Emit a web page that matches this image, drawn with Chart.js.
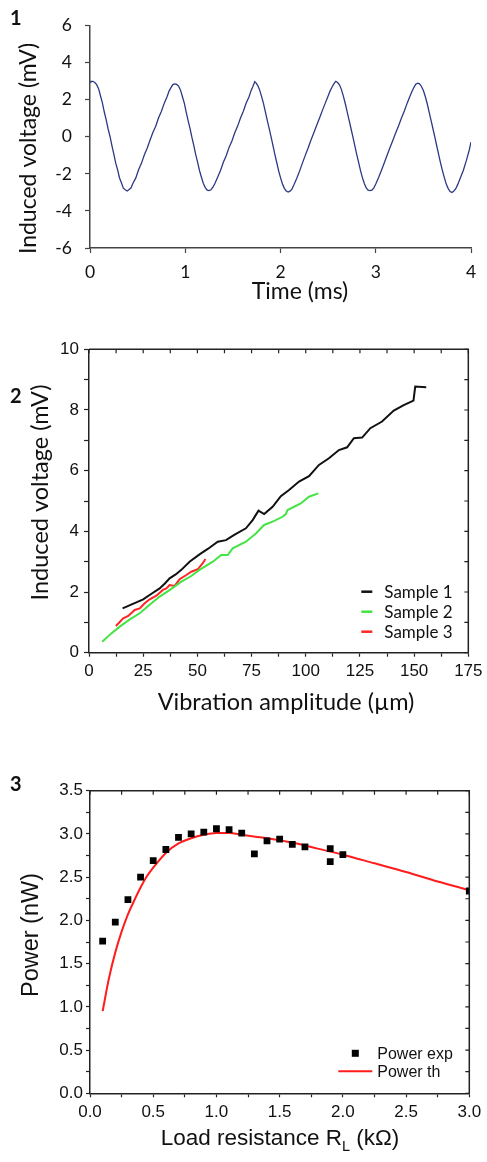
<!DOCTYPE html>
<html>
<head>
<meta charset="utf-8">
<script src="https://cdn.jsdelivr.net/npm/chart.js@4.4.1/dist/chart.umd.min.js"></script>
<style>
  body { margin: 0; background: #fff; width: 487px; height: 1162px; position: relative; overflow: hidden; }
  canvas { position: absolute; left: 0; }
</style>
</head>
<body>
<canvas id="c1" width="487" height="320" style="top:0px"></canvas>
<canvas id="c2" width="487" height="400" style="top:330px"></canvas>
<canvas id="c3" width="487" height="402" style="top:760px"></canvas>
<script>
// panel 1 - induced voltage vs time
var timeMs = [0.00, 0.01, 0.03, 0.05, 0.07, 0.09, 0.11, 0.13, 0.15, 0.17, 0.19, 0.21, 0.23, 0.25, 0.27, 0.29, 0.31, 0.33, 0.35, 0.37, 0.39, 0.41, 0.43, 0.45, 0.48, 0.51, 0.54, 0.57, 0.60, 0.63, 0.66, 0.69, 0.72, 0.75, 0.78, 0.81, 0.83, 0.85, 0.87, 0.89,
  0.91, 0.93, 0.95, 0.97, 0.99, 1.01, 1.03, 1.05, 1.07, 1.09, 1.11, 1.13, 1.15, 1.17, 1.19, 1.21, 1.23, 1.25, 1.27, 1.29, 1.31, 1.34, 1.37, 1.40, 1.43, 1.46, 1.49, 1.52, 1.55, 1.58, 1.61, 1.64, 1.67, 1.69, 1.71, 1.73, 1.745,
  1.76, 1.78, 1.80, 1.82, 1.84, 1.86, 1.88, 1.90, 1.92, 1.94, 1.96, 1.98, 2.00, 2.02, 2.04, 2.06, 2.08, 2.10, 2.12, 2.14, 2.17, 2.20, 2.23, 2.26, 2.29, 2.32, 2.35, 2.38, 2.41, 2.44, 2.47, 2.50, 2.52, 2.54, 2.56, 2.58, 2.60,
  2.62, 2.64, 2.66, 2.68, 2.70, 2.72, 2.74, 2.76, 2.78, 2.80, 2.82, 2.84, 2.86, 2.88, 2.90, 2.92, 2.94, 2.96, 2.98, 3.00, 3.03, 3.06, 3.09, 3.12, 3.15, 3.18, 3.21, 3.24, 3.27, 3.30, 3.33, 3.36, 3.38, 3.40, 3.42, 3.44, 3.46,
  3.48, 3.50, 3.52, 3.54, 3.56, 3.58, 3.60, 3.62, 3.64, 3.66, 3.68, 3.70, 3.72, 3.74, 3.76, 3.78, 3.80, 3.82, 3.84, 3.86, 3.89, 3.92, 3.95, 3.98, 4.00];
var voltage = [2.95, 3.00, 3.00, 2.93, 2.82, 2.60, 2.22, 1.83, 1.34, 0.92, 0.43, 0.02, -0.48, -0.93, -1.42, -1.78, -2.22, -2.48, -2.77, -2.86, -2.92, -2.84, -2.76, -2.52, -2.23, -1.78, -1.43, -0.98, -0.62, -0.18, 0.23, 0.57, 1.03, 1.38, 1.82, 2.18, 2.47, 2.66, 2.82, 2.86,
  2.83, 2.74, 2.52, 2.18, 1.82, 1.33, 0.88, 0.46, -0.03, -0.47, -0.96, -1.38, -1.83, -2.18, -2.52, -2.74, -2.88, -2.90, -2.86, -2.72, -2.53, -2.18, -1.82, -1.37, -1.02, -0.57, -0.22, 0.22, 0.58, 1.02, 1.38, 1.83, 2.17, 2.48, 2.72, 2.98, 2.90,
  2.78, 2.55, 2.20, 1.83, 1.38, 0.92, 0.47, 0.02, -0.45, -0.93, -1.37, -1.82, -2.20, -2.53, -2.78, -2.92, -2.98, -2.93, -2.82, -2.60, -2.25, -1.85, -1.42, -1.00, -0.60, -0.17, 0.22, 0.63, 1.02, 1.43, 1.82, 2.20, 2.47, 2.68, 2.86, 3.00, 2.93,
  2.80, 2.55, 2.20, 1.80, 1.35, 0.90, 0.45, 0.00, -0.47, -0.95, -1.38, -1.82, -2.20, -2.52, -2.75, -2.88, -2.90, -2.88, -2.75, -2.55, -2.20, -1.80, -1.40, -0.98, -0.58, -0.18, 0.22, 0.60, 1.02, 1.40, 1.82, 2.20, 2.45, 2.66, 2.84, 2.90, 2.86,
  2.72, 2.50, 2.18, 1.80, 1.35, 0.90, 0.45, 0.00, -0.48, -0.95, -1.40, -1.82, -2.20, -2.55, -2.78, -2.95, -3.00, -2.92, -2.80, -2.58, -2.20, -1.80, -1.30, -0.75, -0.28];

// panel 2 - induced voltage vs vibration amplitude
var s1Amp = [15.5, 20, 25, 29, 32.6, 35, 37.2, 40, 42.6, 46.4, 51, 54.8, 59.4, 63.2, 67, 72.4, 75.5, 78.2, 80.8, 84.7, 88.5, 92.3, 96.9, 101.5, 106.1, 110.7, 115.3, 119.1, 122.2, 126, 129.8, 135.2, 140.6, 145.2, 149.7, 150.5, 155.6];
var s1Volt = [1.46, 1.6, 1.76, 1.95, 2.12, 2.28, 2.45, 2.58, 2.73, 3.0, 3.24, 3.42, 3.66, 3.71, 3.88, 4.1, 4.37, 4.68, 4.57, 4.81, 5.16, 5.36, 5.64, 5.82, 6.19, 6.41, 6.68, 6.77, 7.07, 7.09, 7.4, 7.62, 7.98, 8.16, 8.31, 8.77, 8.75];
var s2Amp = [6.1, 10, 14.2, 18.5, 23.4, 28, 32.6, 37.5, 42.6, 47, 51, 57.1, 61, 64, 66.3, 72.4, 77, 80.8, 84.7, 89.3, 90.8, 91.6, 97.7, 101.5, 105.8];
var s2Volt = [0.36, 0.62, 0.86, 1.08, 1.3, 1.58, 1.85, 2.08, 2.34, 2.52, 2.73, 3.0, 3.22, 3.22, 3.44, 3.66, 3.93, 4.21, 4.32, 4.48, 4.57, 4.70, 4.92, 5.14, 5.25];
var s3Amp = [12.4, 15.8, 18.1, 21.1, 23.4, 25.7, 28, 31.1, 34.1, 35.7, 37.2, 39.5, 41.8, 44.9, 47.2, 50.2, 52.5, 53.7];
var s3Volt = [0.88, 1.13, 1.21, 1.41, 1.46, 1.63, 1.76, 1.88, 2.07, 2.12, 2.23, 2.2, 2.42, 2.56, 2.67, 2.75, 2.95, 3.09];
var sampleNames = ["Sample 1", "Sample 2", "Sample 3"];

// panel 3 - power vs load resistance
var loadExp = [0.1, 0.2, 0.3, 0.4, 0.5, 0.6, 0.7, 0.8, 0.9, 1.0, 1.1, 1.2, 1.3, 1.4, 1.5, 1.6, 1.7, 1.9, 1.9, 2.0, 3.0];
var powerExp = [1.76, 1.98, 2.24, 2.5, 2.69, 2.82, 2.96, 3.0, 3.02, 3.06, 3.05, 3.01, 2.77, 2.92, 2.94, 2.88, 2.85, 2.83, 2.68, 2.76, 2.34];
var loadTh = [0.1, 0.15, 0.2, 0.25, 0.3, 0.35, 0.4, 0.45, 0.5, 0.6, 0.7, 0.8, 0.9, 1.0, 1.1, 1.2, 1.4, 1.6, 1.8, 2.0, 2.25, 2.5, 2.75, 3.0];
var powerTh = [0.95, 1.33, 1.63, 1.87, 2.07, 2.23, 2.38, 2.51, 2.61, 2.78, 2.89, 2.95, 2.99, 3.01, 3.01, 2.99, 2.95, 2.90, 2.83, 2.76, 2.66, 2.56, 2.45, 2.35];

function pts(xs, ys) {
  return xs.map(function(x, i) { return { x: x, y: ys[i] }; });
}

var LATO = "Lato, 'Open Sans', sans-serif";
var ARIAL = "'Liberation Sans', Arial, sans-serif";
var INK = '#111';

// top + right box with inward ticks
var framePlugin = {
  id: 'frame',
  afterDraw: function(chart, args, opts) {
    if (!opts.box) return;
    var ctx = chart.ctx, a = chart.chartArea, sx = chart.scales.x, sy = chart.scales.y;
    ctx.save();
    ctx.strokeStyle = opts.color;
    ctx.lineWidth = opts.width;
    ctx.beginPath();
    ctx.moveTo(a.left, a.top);
    ctx.lineTo(a.right, a.top);
    ctx.lineTo(a.right, a.bottom);
    ctx.stroke();
    ctx.lineWidth = 1.2;
    ctx.beginPath();
    sx.ticks.forEach(function(t, i) {
      var px = sx.getPixelForTick(i);
      ctx.moveTo(px, a.top);
      ctx.lineTo(px, a.top + opts.tick);
    });
    sy.ticks.forEach(function(t, i) {
      var py = sy.getPixelForTick(i);
      ctx.moveTo(a.right, py);
      ctx.lineTo(a.right - opts.tick, py);
    });
    ctx.stroke();
    ctx.restore();
  }
};

// free text: panel numbers and axis titles
var textPlugin = {
  id: 'texts',
  afterDraw: function(chart, args, opts) {
    var ctx = chart.ctx;
    (opts.items || []).forEach(function(it) {
      var parts = it.parts || [{ t: it.t }];
      ctx.save();
      ctx.fillStyle = it.color || INK;
      var total = 0;
      parts.forEach(function(p) {
        ctx.font = (it.weight || 'normal') + ' ' + (p.size || it.size) + 'px ' + it.family;
        p.w = ctx.measureText(p.t).width;
        total += p.w;
      });
      ctx.translate(it.x, it.y);
      if (it.rot) ctx.rotate(-Math.PI / 2);
      ctx.textBaseline = 'alphabetic';
      ctx.textAlign = 'left';
      var x0 = it.align === 'left' ? 0 : -total / 2;
      parts.forEach(function(p) {
        ctx.font = (it.weight || 'normal') + ' ' + (p.size || it.size) + 'px ' + it.family;
        ctx.fillText(p.t, x0, p.dy || 0);
        x0 += p.w;
      });
      ctx.restore();
    });
  }
};

// legend inside the plot, anchored to the lower right of the chart area
var innerLegend = {
  id: 'innerLegend',
  afterDraw: function(chart, args, opts) {
    if (!opts.rows) return;
    var ctx = chart.ctx, a = chart.chartArea;
    ctx.save();
    ctx.font = opts.size + 'px ' + opts.family;
    ctx.textBaseline = 'middle';
    chart.data.datasets.forEach(function(ds, i) {
      var y = a.bottom - opts.rows[i];
      if (ds.showLine === false) {
        var c = a.right - opts.rectX, h = opts.rectSize / 2;
        ctx.fillStyle = ds.backgroundColor;
        ctx.fillRect(c - h, y - h, opts.rectSize, opts.rectSize);
      } else {
        ctx.strokeStyle = ds.borderColor;
        ctx.lineWidth = opts.lineWidth;
        ctx.beginPath();
        ctx.moveTo(a.right - opts.lineX[0], y);
        ctx.lineTo(a.right - opts.lineX[1], y);
        ctx.stroke();
      }
      ctx.fillStyle = INK;
      ctx.fillText(ds.label, a.right - opts.textX, y + 1);
    });
    ctx.restore();
  }
};

Chart.register(framePlugin, textPlugin, innerLegend);

function axis(min, max, step, o) {
  return {
    type: 'linear', min: min, max: max,
    afterFit: function(s) { if (o.w) s.width = o.w; if (o.h) s.height = o.h; },
    ticks: {
      stepSize: step, autoSkip: false, maxRotation: 0, padding: o.pad,
      color: INK, font: { family: o.family, size: o.size },
      callback: o.cb
    },
    grid: { drawOnChartArea: false, drawTicks: true, tickLength: o.tick, tickColor: o.color, tickWidth: 1.2 },
    border: { color: o.color, width: 1.5 }
  };
}

var common = {
  responsive: false, animation: false, devicePixelRatio: 1,
  events: []
};

// ---------- panel 1 ----------
new Chart(document.getElementById('c1'), {
  type: 'scatter',
  data: {
    datasets: [{
      label: 'Induced voltage',
      data: pts(timeMs, voltage),
      showLine: true, pointRadius: 0, borderColor: '#2b3984', borderWidth: 1.3
    }]
  },
  options: Object.assign({}, common, {
    layout: { padding: { top: 25.7, right: 16, left: 0, bottom: 0 } },
    scales: {
      x: axis(0, 4, 1, { h: 72, pad: 9, tick: 5, size: 17.5, family: LATO, color: '#444' }),
      y: axis(-6, 6, 2, { w: 90, pad: 13, tick: 5, size: 17.5, family: LATO, color: '#444' })
    },
    plugins: {
      legend: { display: false }, tooltip: { enabled: false },
      frame: { box: false },
      texts: { items: [
        { t: '1', x: 10, y: 25, size: 20, weight: 'bold', family: LATO, align: 'left' },
        { t: 'Time (ms)', x: 300, y: 299, size: 23, family: LATO },
        { t: 'Induced voltage (mV)', x: 36, y: 148.5, size: 23, family: LATO, rot: true }
      ] }
    }
  })
});

// ---------- panel 2 ----------
var sampleColors = ['#111111', '#44e444', '#ff2626'];
var sampleData = [pts(s1Amp, s1Volt), pts(s2Amp, s2Volt), pts(s3Amp, s3Volt)];
new Chart(document.getElementById('c2'), {
  type: 'scatter',
  data: {
    datasets: sampleNames.map(function(n, i) {
      return { label: n, data: sampleData[i], showLine: true, pointRadius: 0, borderColor: sampleColors[i], borderWidth: 2 };
    })
  },
  options: Object.assign({}, common, {
    layout: { padding: { top: 19.3, right: 17, left: 0, bottom: 0 } },
    scales: {
      x: axis(0, 175, 12.5, { h: 77.3, pad: 4.5, tick: 4, size: 17, family: ARIAL, color: '#222',
        cb: function(v) { return v % 25 === 0 ? v : ''; } }),
      y: axis(0, 10, 1, { w: 89, pad: 5, tick: 5, size: 17, family: ARIAL, color: '#222',
        cb: function(v) { return v % 2 === 0 ? v : ''; } })
    },
    plugins: {
      legend: { display: false }, tooltip: { enabled: false },
      frame: { box: true, color: '#222', width: 1.5, tick: 4 },
      innerLegend: { rows: [61, 41, 21], lineX: [107, 96], lineWidth: 2.5, textX: 84, size: 17, family: LATO },
      texts: { items: [
        { t: '2', x: 10, y: 73, size: 20, weight: 'bold', family: LATO, align: 'left' },
        { t: 'Vibration amplitude (\u00b5m)', x: 286, y: 380, size: 23.5, family: LATO },
        { t: 'Induced voltage (mV)', x: 48, y: 162.5, size: 23.5, family: LATO, rot: true }
      ] }
    }
  })
});

// ---------- panel 3 ----------
new Chart(document.getElementById('c3'), {
  type: 'scatter',
  data: {
    datasets: [
      { label: 'Power exp', data: pts(loadExp, powerExp), showLine: false, pointStyle: 'rect',
        pointRadius: 4.8, backgroundColor: '#000', borderWidth: 0 },
      { label: 'Power th', data: pts(loadTh, powerTh), showLine: true, pointRadius: 0,
        borderColor: '#ff1c1c', borderWidth: 2, cubicInterpolationMode: 'monotone' }
    ]
  },
  options: Object.assign({}, common, {
    layout: { padding: { top: 30.7, right: 17.7, left: 0, bottom: 0 } },
    scales: {
      x: axis(0, 3, 0.25, { h: 68.7, pad: 4.5, tick: 4, size: 17, family: ARIAL, color: '#222',
        cb: function(v) { return Math.round(v * 4) % 2 === 0 ? v.toFixed(1) : ''; } }),
      y: axis(0, 3.5, 0.25, { w: 90, pad: 3, tick: 4, size: 17, family: ARIAL, color: '#222',
        cb: function(v) { return Math.round(v * 4) % 2 === 0 ? v.toFixed(1) : ''; } })
    },
    plugins: {
      legend: { display: false }, tooltip: { enabled: false },
      frame: { box: true, color: '#222', width: 1.5, tick: 4 },
      innerLegend: { rows: [40, 22], rectX: 114, rectSize: 7, lineX: [131, 97], lineWidth: 2, textX: 92, size: 16, family: ARIAL },
      texts: { items: [
        { t: '3', x: 10, y: 31, size: 20, weight: 'bold', family: LATO, align: 'left' },
        { parts: [{ t: 'Load resistance R' }, { t: 'L', size: 14.5, dy: 6 }, { t: ' (k\u03a9)' }], x: 280, y: 385, size: 22.5, family: ARIAL },
        { t: 'Power (nW)', x: 38, y: 175, size: 23.5, family: ARIAL, rot: true }
      ] }
    }
  })
});
</script>
</body>
</html>
